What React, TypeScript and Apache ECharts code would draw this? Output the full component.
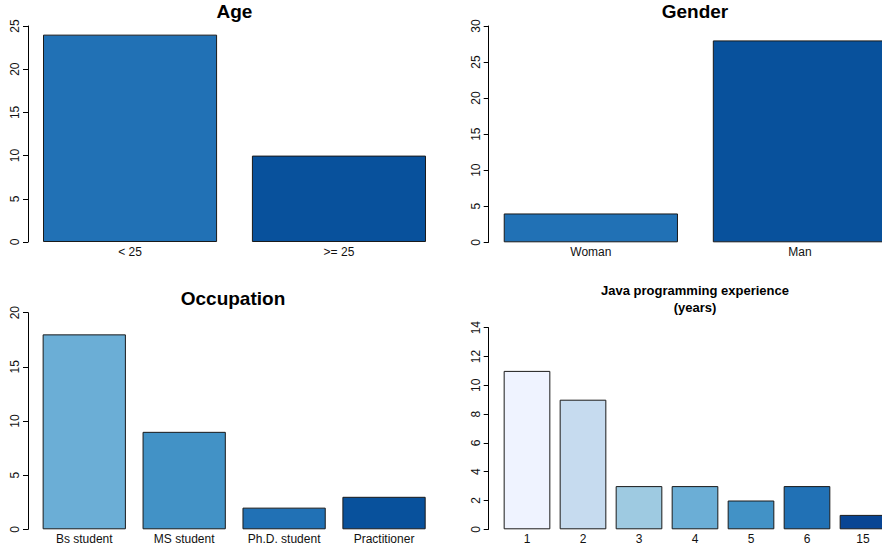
import React, { useEffect, useRef } from "react";
import * as echarts from "echarts";

const ageCategories = ["< 25", ">= 25"];
const ageValues = [24, 10];
const ageColors = ["#2171b5", "#08519c"];
const ageTicks = { min: 0, max: 25, interval: 5 };

const genderCategories = ["Woman", "Man"];
const genderValues = [4, 28];
const genderColors = ["#2171b5", "#08519c"];
const genderTicks = { min: 0, max: 30, interval: 5 };

const occupationCategories = ["Bs student", "MS student", "Ph.D. student", "Practitioner"];
const occupationValues = [18, 9, 2, 3];
const occupationColors = ["#6baed6", "#4292c6", "#2171b5", "#08519c"];
const occupationTicks = { min: 0, max: 20, interval: 5 };

const javaCategories = ["1", "2", "3", "4", "5", "6", "15"];
const javaValues = [11, 9, 3, 3, 2, 3, 1];
const javaColors = ["#eff3ff", "#c6dbef", "#9ecae1", "#6baed6", "#4292c6", "#2171b5", "#084594"];
const javaTicks = { min: 0, max: 14, interval: 2 };

const FONT = "Liberation Sans, Arial, Helvetica, sans-serif";

const panels = [
  { title: "Age", cats: ageCategories, vals: ageValues, colors: ageColors, ticks: ageTicks,
    grid: { left: 25.6, top: 26, width: 417.8, height: 216 }, offset: -2.4,
    titlePos: { x: 234.5, y: 0 }, titleSize: 19, titleLH: 22 },
  { title: "Gender", cats: genderCategories, vals: genderValues, colors: genderColors, ticks: genderTicks,
    grid: { left: 486.3, top: 26, width: 418.2, height: 216.3 }, offset: -2.4,
    titlePos: { x: 695, y: 0 }, titleSize: 19, titleLH: 22 },
  { title: "Occupation", cats: occupationCategories, vals: occupationValues, colors: occupationColors, ticks: occupationTicks,
    grid: { left: 34.3, top: 312.7, width: 399.7, height: 216.6 }, offset: 6.3,
    titlePos: { x: 233, y: 287 }, titleSize: 19, titleLH: 22 },
  { title: "Java programming experience\n(years)", cats: javaCategories, vals: javaValues, colors: javaColors, ticks: javaTicks,
    grid: { left: 499, top: 327.7, width: 392, height: 201.6 }, offset: 10.3,
    titlePos: { x: 695, y: 281.4 }, titleSize: 13, titleLH: 17.3 },
];

export default function App() {
  const ref = useRef<HTMLDivElement>(null);
  useEffect(() => {
    if (!ref.current) return;
    const chart = echarts.init(ref.current, undefined, { renderer: "svg" });
    const option: any = {
      animation: false,
      backgroundColor: "#ffffff",
      title: panels.map((p) => ({
        text: p.title,
        left: p.titlePos.x,
        top: p.titlePos.y,
        textAlign: "center",
        padding: 0,
        textStyle: {
          fontFamily: FONT,
          fontWeight: "bold",
          fontSize: p.titleSize,
          lineHeight: p.titleLH,
          color: "#000",
        },
      })),
      grid: panels.map((p) => ({ ...p.grid, containLabel: false, outerBoundsMode: "none" })),
      xAxis: panels.map((p, i) => ({
        type: "category",
        gridIndex: i,
        data: p.cats,
        boundaryGap: true,
        axisLine: { show: false },
        axisTick: { show: false },
        splitLine: { show: false },
        axisLabel: { fontFamily: FONT, fontSize: 12, color: "#111", margin: 4, interval: 0 },
      })),
      yAxis: panels.map((p, i) => ({
        type: "value",
        gridIndex: i,
        min: p.ticks.min,
        max: p.ticks.max,
        interval: p.ticks.interval,
        offset: p.offset,
        axisLine: { show: true, lineStyle: { color: "#000", width: 1 } },
        axisTick: { show: true, length: 5, inside: false, lineStyle: { color: "#000", width: 1 } },
        splitLine: { show: false },
        axisLabel: {
          fontFamily: FONT,
          fontSize: 12,
          color: "#111",
          rotate: 90,
          align: "center",
          verticalAlign: "bottom",
          margin: 7,
        },
      })),
      series: panels.map((p, i) => ({
        type: "bar",
        xAxisIndex: i,
        yAxisIndex: i,
        barCategoryGap: "16.667%",
        data: p.vals.map((v, j) => ({
          value: v,
          itemStyle: { color: p.colors[j], borderColor: "#1a1a1a", borderWidth: 1 },
        })),
      })),
    };
    chart.setOption(option);
    return () => chart.dispose();
  }, []);
  return (
    <div
      ref={ref}
      style={{ position: "absolute", left: 0, top: 0, width: 882, height: 550 }}
    />
  );
}
